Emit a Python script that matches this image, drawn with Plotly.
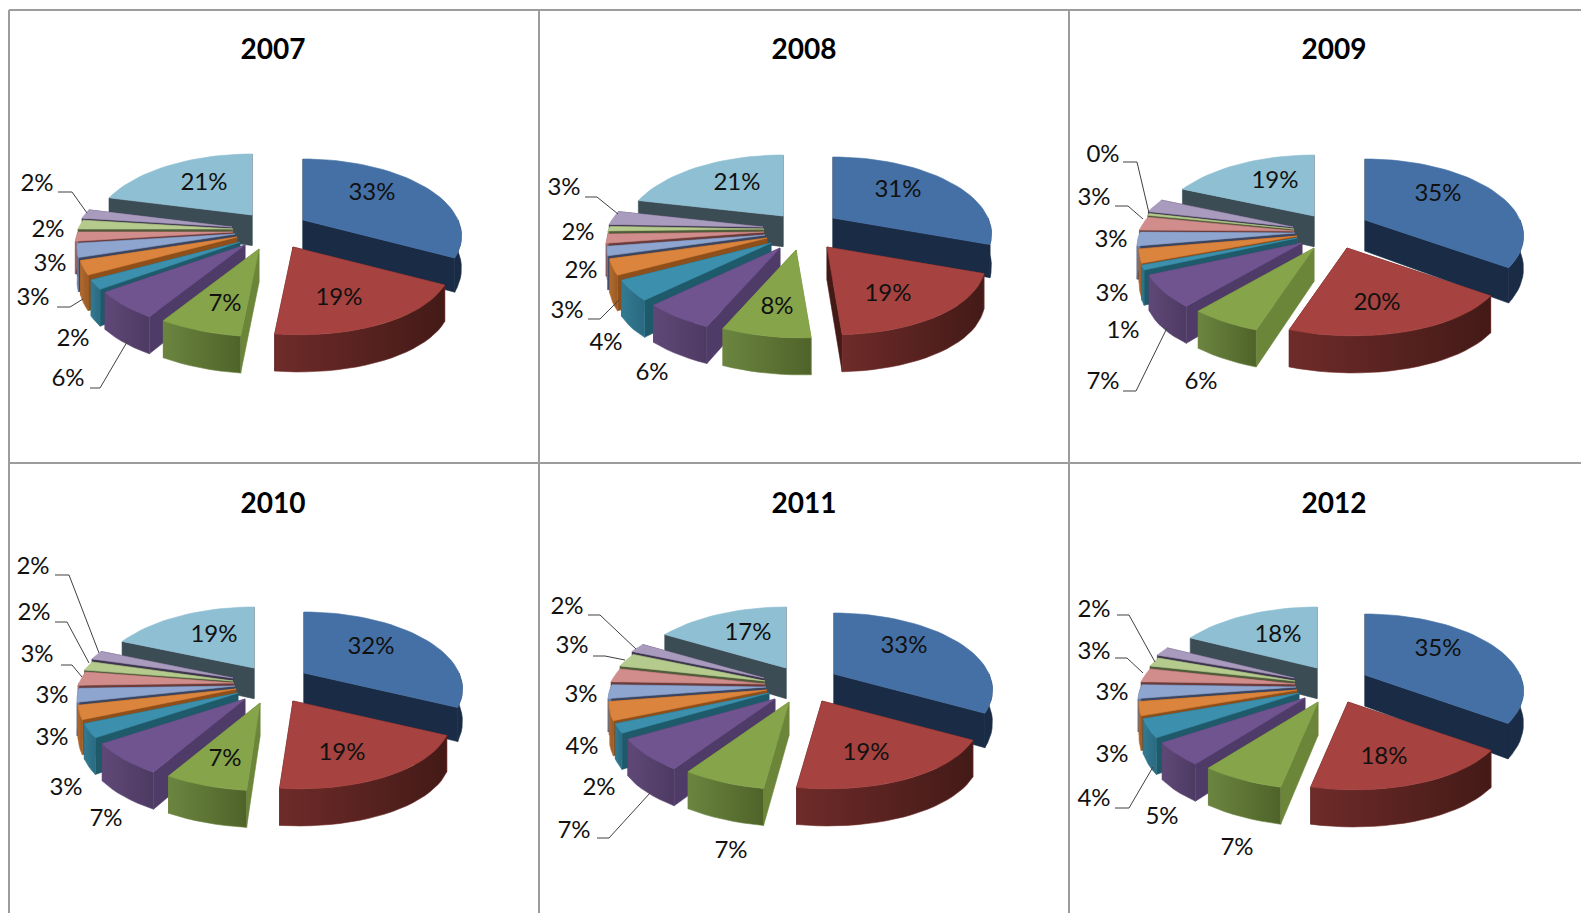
import math
import plotly.graph_objects as go

YEARS = ["2007", "2008", "2009", "2010", "2011", "2012"]

V2007 = [33, 19, 7, 6, 2, 3, 3, 2, 2, 2, 21]
V2008 = [30.6, 18.6, 7.5, 6, 4.4, 3.4, 2, 2, 1, 3, 21.4]
V2009 = [35.4, 20.4, 6, 7, 1, 3, 3, 3, 0.4, 3, 18.6]
V2010 = [32.4, 19.4, 7, 7, 3, 3, 3, 3, 2, 2, 18.6]
V2011 = [33.4, 19.4, 7, 7, 2, 4, 3, 3, 3, 2, 16.6]
V2012 = [35.4, 18.4, 7, 5, 4, 3, 3, 3, 2, 2, 17.6]
VALUES = [V2007, V2008, V2009, V2010, V2011, V2012]

# ---- layout and styling (separate from the data) ----
W, H = 1581, 913
RX, RY, KX, KY, DEPTH, SHEAR = 155, 72, 0.2, 0.18, 32, 6

TOP = ["#4470a6", "#a6423f", "#86a44a", "#6f5490", "#3c90ad", "#db843d",
       "#8ea5cf", "#d08d8b", "#b5ca8d", "#a99bbd", "#8fbfd3"]
CUT = ["#1a2c45", "#441a17", "#6b8539", "#4f3b68", "#1e5a6a", "#8f4f1a",
       "#3b4560", "#6b3b3a", "#4f5c3a", "#3e3650", "#3b4c55"]
WALL = [("#1a2c45", "#1a2c45"), ("#6e2b29", "#431a17"), ("#6b8540", "#4f6329"),
        ("#5f4877", "#4d3a62"), ("#327a92", "#2a6a80"), ("#b06a2e", "#9a5a25"),
        ("#6a7ca0", "#6a7ca0"), ("#a06a68", "#a06a68"), ("#8a9c6a", "#8a9c6a"),
        ("#7f7490", "#7f7490"), ("#3b4c55", "#3b4c55")]
ORDER = [10, 0, 9, 8, 7, 6, 5, 4, 3, 2, 1]

TIPS = [
    [(303, 220), (293, 247), (259, 249), (245, 245), (240, 242), (237, 237), (235, 234), (233, 232), (233, 229), (232, 227), (252, 215)],
    [(833, 218), (827, 247), (796, 250), (780, 248), (771, 243), (767, 238), (765, 235), (764, 232), (764, 229), (763, 227), (783, 216)],
    [(1365, 220), (1347, 248), (1314, 248), (1302, 243), (1297, 238), (1297, 236), (1295, 233), (1294, 231), (1294, 229), (1293, 227), (1314, 216)],
    [(304, 673), (293, 701), (260, 703), (245, 699), (238, 693), (236, 689), (235, 686), (234, 683), (233, 681), (233, 678), (254, 668)],
    [(834, 674), (822, 701), (789, 702), (775, 699), (769, 693), (767, 690), (766, 687), (765, 684), (765, 681), (764, 678), (786, 668)],
    [(1365, 675), (1348, 702), (1318, 702), (1305, 698), (1299, 693), (1297, 690), (1296, 687), (1295, 684), (1295, 681), (1294, 678), (1317, 668)],
]
LABELS = [
    [("33%", 372, 194), ("19%", 339, 299), ("7%", 225, 305), ("21%", 204, 184), ("2%", 37, 185), ("2%", 48, 231),
     ("3%", 50, 265), ("3%", 33, 299), ("2%", 73, 340), ("6%", 68, 380)],
    [("31%", 898, 191), ("19%", 888, 295), ("8%", 777, 308), ("21%", 737, 184), ("3%", 564, 189), ("2%", 578, 234),
     ("2%", 581, 272), ("3%", 567, 312), ("4%", 606, 344), ("6%", 652, 374)],
    [("35%", 1438, 195), ("20%", 1377, 304), ("19%", 1275, 182), ("0%", 1103, 156), ("3%", 1094, 199), ("3%", 1111, 241),
     ("3%", 1112, 295), ("1%", 1123, 332), ("7%", 1103, 383), ("6%", 1201, 383)],
    [("32%", 371, 648), ("19%", 342, 754), ("7%", 225, 760), ("19%", 214, 636), ("2%", 33, 568), ("2%", 34, 614),
     ("3%", 37, 656), ("3%", 52, 697), ("3%", 52, 739), ("3%", 66, 789), ("7%", 106, 820)],
    [("33%", 904, 647), ("19%", 866, 754), ("7%", 731, 852), ("17%", 748, 634), ("2%", 567, 608), ("3%", 572, 647),
     ("3%", 581, 696), ("4%", 582, 748), ("2%", 599, 789), ("7%", 574, 832)],
    [("35%", 1438, 650), ("18%", 1384, 758), ("7%", 1237, 849), ("18%", 1278, 636), ("2%", 1094, 611), ("3%", 1094, 653),
     ("3%", 1112, 694), ("3%", 1112, 756), ("4%", 1094, 800), ("5%", 1162, 818)],
]
LEADERS = [
    [[(58, 192), (72, 192), (87, 213)], [(57, 307), (70, 307), (83, 299)], [(90, 388), (100, 388), (127, 342)]],
    [[(585, 197), (597, 197), (618, 214)], [(588, 319), (600, 319), (619, 300)]],
    [[(1123, 162), (1137, 162), (1149, 213)], [(1115, 206), (1128, 206), (1143, 219)], [(1123, 391), (1136, 391), (1167, 328)]],
    [[(55, 575), (69, 575), (99, 653)], [(55, 622), (67, 622), (89, 663)], [(61, 665), (72, 665), (82, 677)]],
    [[(588, 615), (600, 615), (636, 649)], [(593, 656), (605, 656), (625, 660)], [(597, 838), (609, 838), (650, 793)]],
    [[(1117, 615), (1129, 615), (1155, 662)], [(1115, 658), (1127, 658), (1143, 673)], [(1115, 808), (1129, 808), (1153, 767)]],
]
TITLE_POS = [(273, 52), (804, 52), (1334, 52), (273, 506), (804, 506), (1334, 506)]
GRID = [[(9, 10), (9, 913)], [(539, 10), (539, 913)], [(1069, 10), (1069, 913)],
        [(9, 10), (1581, 10)], [(9, 463), (1581, 463)]]
FONT = "Lato, 'Noto Sans', sans-serif"


def project(tip, theta):
    u, v = math.sin(theta), -math.cos(theta)
    shear = SHEAR * v * v if v > 0 else 0
    return tip[0] + RX * u / (1 - KX * v) + shear, tip[1] + RY * v / (1 - KY * v)


def arc(tip, a0, a1):
    n = max(4, int(abs(a1 - a0) / math.radians(3)))
    return [project(tip, a0 + (a1 - a0) * i / n) for i in range(n + 1)]


def down(p, base):
    rel = max(-1, min(1, (p[1] - base) / 60))
    return p[0], p[1] + DEPTH * (1 + 0.16 * rel)


def poly(fig, pts, color, gradient=None):
    kw = {}
    if gradient:
        kw["fillgradient"] = dict(type="horizontal",
                                  colorscale=[[0, gradient[0]], [1, gradient[1]]])
    else:
        kw["fillcolor"] = color
    fig.add_trace(go.Scatter(
        x=[p[0] for p in pts] + [pts[0][0]], y=[p[1] for p in pts] + [pts[0][1]],
        mode="lines", fill="toself", line=dict(color=color, width=0.6),
        hoverinfo="skip", showlegend=False, **kw))


fig = go.Figure()

for seg in GRID:
    fig.add_trace(go.Scatter(x=[p[0] for p in seg], y=[p[1] for p in seg], mode="lines",
                             line=dict(color="#9c9c9c", width=2), hoverinfo="skip", showlegend=False))

for values, tips in zip(VALUES, TIPS):
    total = sum(values)
    base = tips[7][1]
    angles = [0]
    for val in values:
        angles.append(angles[-1] + val / total * 2 * math.pi)
    for i in ORDER:
        a0, a1 = angles[i], angles[i + 1]
        tip = tips[i]
        e0, e1 = project(tip, a0), project(tip, a1)
        # two cut faces
        poly(fig, [tip, e0, down(e0, base), down(tip, base)], CUT[i])
        poly(fig, [tip, e1, down(e1, base), down(tip, base)], CUT[i])
        # outer wall: only the part of the rim that faces the viewer
        w0, w1 = max(a0, math.pi / 2), min(a1, 3 * math.pi / 2)
        if w1 > w0:
            rim = arc(tip, w0, w1)
            poly(fig, rim + [down(p, base) for p in reversed(rim)], WALL[i][0],
                 gradient=WALL[i] if WALL[i][0] != WALL[i][1] else None)
        # top face
        poly(fig, [tip] + arc(tip, a0, a1), TOP[i])

for lines in LEADERS:
    for seg in lines:
        fig.add_trace(go.Scatter(x=[p[0] for p in seg], y=[p[1] for p in seg], mode="lines",
                                 line=dict(color="#404040", width=1), hoverinfo="skip", showlegend=False))

for labs in LABELS:
    fig.add_trace(go.Scatter(x=[l[1] for l in labs], y=[l[2] for l in labs], text=[l[0] for l in labs],
                             mode="text", textposition="middle center",
                             textfont=dict(family=FONT, size=24, color="#111111"),
                             hoverinfo="skip", showlegend=False))

fig.add_trace(go.Scatter(x=[p[0] for p in TITLE_POS], y=[p[1] for p in TITLE_POS],
                         text=["<b>%s</b>" % y for y in YEARS], mode="text",
                         textposition="middle center",
                         textfont=dict(family=FONT, size=28, color="#000000"),
                         hoverinfo="skip", showlegend=False))

fig.update_layout(width=W, height=H, margin=dict(l=0, r=0, t=0, b=0),
                  paper_bgcolor="white", plot_bgcolor="white", showlegend=False,
                  xaxis=dict(range=[0, W], visible=False, fixedrange=True),
                  yaxis=dict(range=[H, 0], visible=False, fixedrange=True))
fig.write_html("out.html", config={"displayModeBar": False},
               post_script="document.body.style.margin='0';document.body.style.overflow='hidden';")
